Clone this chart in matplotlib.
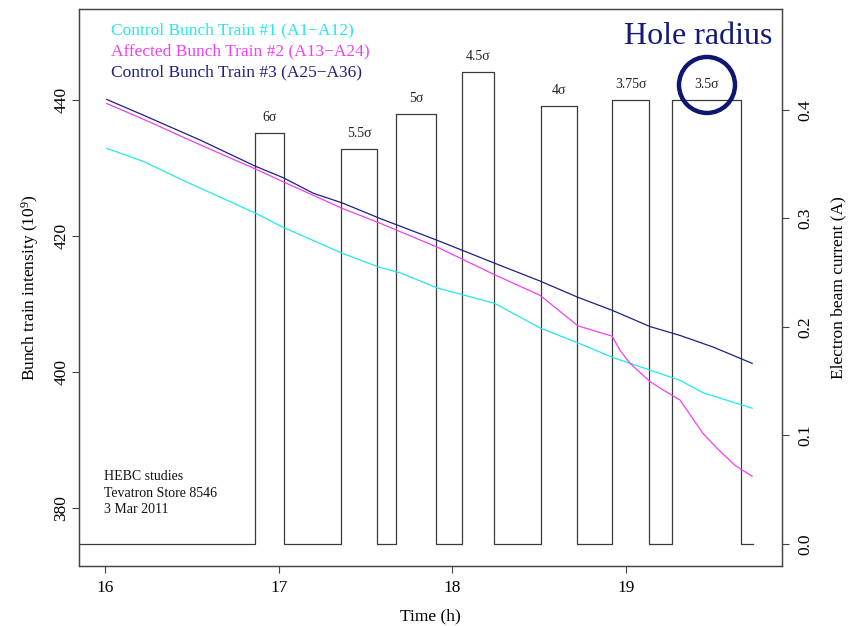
import matplotlib
matplotlib.use("Agg")
import matplotlib.pyplot as plt
from matplotlib.patches import Ellipse

plt.rcParams['font.family'] = ['Liberation Serif', 'DejaVu Serif']
plt.rcParams['mathtext.fontset'] = 'custom'
plt.rcParams['mathtext.rm'] = 'Liberation Serif'
plt.rcParams['mathtext.it'] = 'Liberation Serif:italic'
plt.rcParams['mathtext.default'] = 'regular'

# ---- data ----
t_train1 = [16.01, 16.22, 16.45, 16.864, 17.025, 17.364, 17.583, 17.70, 17.911, 18.245,
            18.504, 18.723, 18.919, 19.022, 19.138, 19.310, 19.44, 19.725]
train1 = [432.9, 431.0, 428.2, 423.4, 421.3, 417.5, 415.4, 414.6, 412.4, 410.1,
          406.5, 404.3, 402.2, 401.3, 400.3, 398.8, 397.0, 394.7]

t_train2 = [16.01, 16.22, 16.55, 16.864, 17.025, 17.364, 17.583, 17.911, 18.245, 18.504,
            18.723, 18.919, 18.965, 19.022, 19.138, 19.212, 19.310, 19.442, 19.523, 19.627, 19.725]
train2 = [439.5, 437.2, 433.4, 429.9, 428.0, 424.1, 421.9, 418.4, 414.3, 411.3,
          406.8, 405.3, 403.2, 401.3, 398.6, 397.4, 395.9, 391.0, 388.8, 386.3, 384.7]

t_train3 = [16.01, 16.22, 16.55, 16.864, 17.025, 17.2, 17.364, 17.583, 17.911, 18.245,
            18.504, 18.723, 18.919, 19.138, 19.310, 19.5, 19.725]
train3 = [440.1, 437.8, 434.1, 430.3, 428.6, 426.3, 424.9, 422.6, 419.4, 416.0,
          413.4, 411.0, 409.1, 406.7, 405.4, 403.7, 401.3]

pulse_on = [16.864, 17.359, 17.675, 18.055, 18.510, 18.919, 19.264]
pulse_off = [17.030, 17.566, 17.906, 18.240, 18.718, 19.132, 19.661]
pulse_current = [0.379, 0.364, 0.396, 0.435, 0.404, 0.409, 0.409]
pulse_labels = ["6σ", "5.5σ", "5σ", "4.5σ", "4σ", "3.75σ", "3.5σ"]
current_start, current_end = 15.80, 19.731

legend_labels = ["Control Bunch Train #1 (A1−A12)",
                 "Affected Bunch Train #2 (A13−A24)",
                 "Control Bunch Train #3 (A25−A36)"]
colors = ["#22E8EA", "#F040F0", "#1E2080"]

# ---- figure ----
fig = plt.figure(figsize=(8.52, 6.26), dpi=100)
ax = fig.add_axes([79/852, 1-566/626, 703/852, 557/626])
ax2 = ax.twinx()

# step current
sx = [current_start]
sy = [0.0]
for on, off, c in zip(pulse_on, pulse_off, pulse_current):
    sx += [on, on, off, off]
    sy += [0.0, c, c, 0.0]
sx.append(current_end)
sy.append(0.0)
ax2.plot(sx, sy, color="#3a3a3a", lw=0.9)

for on, off, c, lab in zip(pulse_on, pulse_off, pulse_current, pulse_labels):
    ax2.annotate(lab, xy=((on+off)/2, c), xytext=(0, 11), textcoords='offset points',
                 ha='center', va='center', fontsize=10, color="#222222")

# intensity lines
ax.plot(t_train1, train1, color=colors[0], lw=0.9)
ax.plot(t_train2, train2, color=colors[1], lw=0.9)
ax.plot(t_train3, train3, color=colors[2], lw=0.9)
ax.set_zorder(ax2.get_zorder()+1)
ax.patch.set_visible(False)

ax.set_xlim(15.85, 19.897)
ax.set_ylim(371.5, 453.4)
ax2.set_ylim(-0.0203, 0.493)

ax.set_xticks([16, 17, 18, 19])
ax.set_yticks([380, 400, 420, 440])
ax2.set_yticks([0.0, 0.1, 0.2, 0.3, 0.4])
ax2.set_yticklabels(["0.0", "0.1", "0.2", "0.3", "0.4"])

for a in (ax, ax2):
    a.tick_params(direction='out', length=5, width=0.8, color="#444444",
                  labelsize=12.5, pad=5)
    for s in a.spines.values():
        s.set_color("#444444")
        s.set_linewidth(0.9)
ax.tick_params(axis='y', labelrotation=90, pad=2)
ax2.tick_params(axis='y', labelrotation=90, pad=6)
for lbl in ax.get_yticklabels():
    lbl.set_va('center')
for lbl in ax2.get_yticklabels():
    lbl.set_va('center')

ax.set_xlabel("Time (h)", fontsize=12.5, labelpad=9)
ax.set_ylabel("Bunch train intensity (10$^{9}$)", fontsize=12.5, labelpad=9)
ax2.set_ylabel("Electron beam current (A)", fontsize=12.5, labelpad=12)

# legend-like colored texts
for i, (lab, col) in enumerate(zip(legend_labels, colors)):
    ax.text(0.0455, 0.962 - i*0.0377, lab, transform=ax.transAxes, color=col,
            fontsize=12.5, ha='left', va='center')

ax.text(0.986, 0.9515, "Hole radius", transform=ax.transAxes, color="#14197A",
        fontsize=23, ha='right', va='center')
ax.add_patch(Ellipse((0.8933, 0.8636), 56/703, 56/557, transform=ax.transAxes,
                     fill=False, edgecolor="#0E1670", lw=3.2, zorder=5))

for i, line in enumerate(["HEBC studies", "Tevatron Store 8546", "3 Mar 2011"]):
    ax.text(0.0356, 0.1598 - i*0.0296, line, transform=ax.transAxes,
            fontsize=10, ha='left', va='center', color="#111111")

fig.savefig("out.png", dpi=100)
